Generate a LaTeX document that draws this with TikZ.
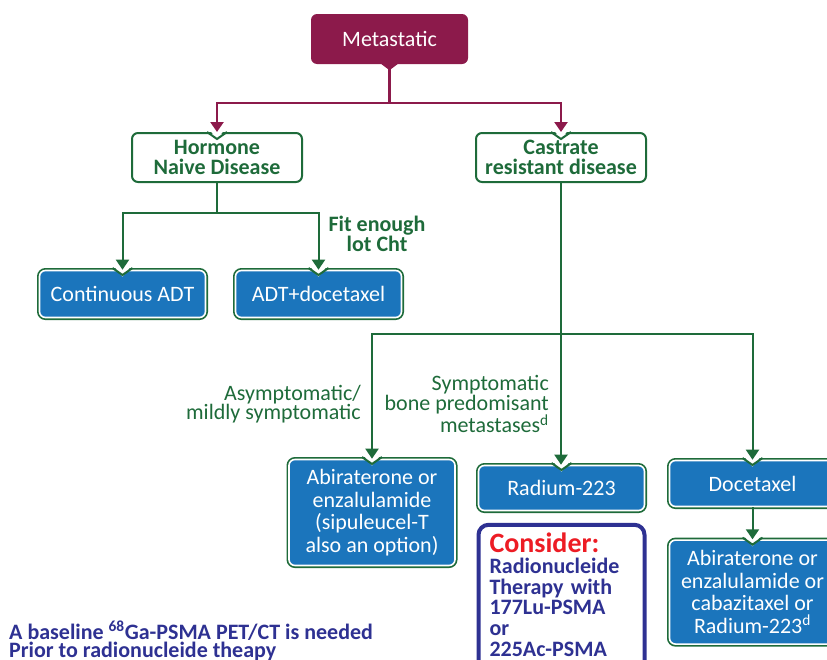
\documentclass[tikz,border=0pt]{standalone}
\usepackage{fontspec}
\setmainfont{Carlito}
\usetikzlibrary{positioning,arrows.meta}
\definecolor{metared}{HTML}{8C1A4B}
\definecolor{treegreen}{HTML}{1E6B3A}
\definecolor{boxblue}{HTML}{1B75BC}
\definecolor{notenavy}{HTML}{2E3192}
\definecolor{alertred}{HTML}{ED1C24}
\tikzset{
  basebox/.style={rounded corners=6pt, align=center, inner sep=0pt, font=\fontsize{22}{22.5}\selectfont},
  rootbox/.style={basebox, fill=metared, text=white, minimum width=157pt, minimum height=50pt},
  groupbox/.style={basebox, draw=treegreen, line width=2pt, fill=white, text=treegreen,
    font=\fontsize{22}{20}\selectfont\bfseries, minimum width=170pt, minimum height=49pt},
  drugbox/.style={basebox, fill=boxblue, draw=white, line width=1.6pt, text=white,
    minimum width=166pt, preaction={draw=treegreen, line width=5pt}},
  considerbox/.style={draw=notenavy, line width=4pt, rounded corners=10pt, fill=white,
    text=notenavy, font=\fontsize{22}{20.8}\selectfont\bfseries, align=left,
    text width=144pt, inner xsep=11pt, inner ysep=8pt, minimum width=166pt},
  branchnote/.style={text=treegreen, font=\fontsize{22}{19.7}\selectfont, align=right, inner sep=0pt},
  rootlink/.style={metared, line width=2.4pt, -{Triangle[width=13pt,length=10pt]}},
  treelink/.style={treegreen, line width=2pt, -{Triangle[width=13pt,length=10pt]}}
}
% V notch on top of a box, #2 = shift of the green edge
\newcommand{\vnotch}[2]{%
  \fill[white] ([xshift=-9pt,yshift=4pt]#1.north) -- ([xshift=9pt,yshift=4pt]#1.north) -- ([yshift=-7pt]#1.north) -- cycle;
  \draw[treegreen,line width=2pt] ([xshift=-10pt,yshift=#2]#1.north) -- ([yshift=-7pt+#2]#1.north) -- ([xshift=10pt,yshift=#2]#1.north);}
\begin{document}
\begin{tikzpicture}[x=1pt,y=-1pt]
\useasboundingbox (0,0) rectangle (827,659);
\clip (0,0) rectangle (827,659);
% top level
\node[rootbox] (meta) at (389.5,39) {Metastatic};
\fill[metared] ([xshift=-8pt]meta.south) -- ([xshift=8pt]meta.south) -- ([yshift=-6pt]meta.south) -- cycle;
\node[groupbox] (horm) at (217,157.5) {Hormone\\Naive Disease};
\node[groupbox] (cast) at (561,157.5) {Castrate\\resistant disease};
% hormone naive branch
\node[drugbox, minimum height=47pt] (cadt) at (122.5,294) {Continuous ADT};
\node[drugbox, minimum height=47pt] (adtd) at (318.5,294) {ADT+docetaxel};
\node[text=treegreen, font=\fontsize{22}{19}\selectfont\bfseries, align=center, inner sep=0pt] (fit) at (377,234) {Fit enough\\lot Cht};
% castrate resistant branch
\node[drugbox, minimum height=106pt] (abi) at (372,512.5) {Abiraterone or\\enzalulamide\\(sipuleucel-T\\also an option)};
\node[drugbox, minimum height=45pt] (rad) at (561.5,488) {Radium-223};
\node[drugbox, minimum height=46pt] (doce) at (752.5,483.5) {Docetaxel};
\node[drugbox, minimum height=104pt, below=32pt of doce] (fin) {Abiraterone or\\enzalulamide or\\cabazitaxel or\\Radium-223\textsuperscript{d}};
\node[considerbox, below=11.5pt of rad] (cons) {{\color{alertred}\fontsize{28}{24}\selectfont Consider:}\\Radionucleide\\Therapy with\\177Lu-PSMA\\or\\225Ac-PSMA\par\vspace*{30pt}};
\node[branchnote, anchor=east] (asym) at (361,404) {Asymptomatic/\\mildly symptomatic};
\node[branchnote, anchor=east] (symp) at (549,404) {Symptomatic\\bone predomisant\\metastases\textsuperscript{d}};
\node[text=notenavy, font=\fontsize{22}{18}\selectfont\bfseries, align=left, anchor=west, inner sep=0pt] (note) at (9,641) {A baseline \textsuperscript{68}Ga-PSMA PET/CT is needed\\Prior to radionucleide theapy};
% notches
\vnotch{horm}{0pt}
\vnotch{cast}{0pt}
\vnotch{cadt}{1.7pt}
\vnotch{adtd}{1.7pt}
\vnotch{abi}{1.7pt}
\vnotch{rad}{1.7pt}
\vnotch{doce}{1.7pt}
\vnotch{fin}{1.7pt}
% connectors
\draw[rootlink] ([yshift=-5pt]meta.south) -- ++(0,34) -| (horm.north);
\draw[rootlink] ([yshift=-5pt]meta.south) -- ++(0,34) -| (cast.north);
\draw[treelink] (horm.south) -- ++(0,30) -| (cadt.north);
\draw[treelink] (horm.south) -- ++(0,30) -| (adtd.north);
\draw[treelink] (cast.south) -- (cast.south |- rad.north);
\draw[treelink] (cast.south) ++(0,151) -| (abi.north);
\draw[treelink] (cast.south) ++(0,151) -| (doce.north);
\draw[treelink] (doce.south) -- (fin.north);
\end{tikzpicture}
\end{document}
